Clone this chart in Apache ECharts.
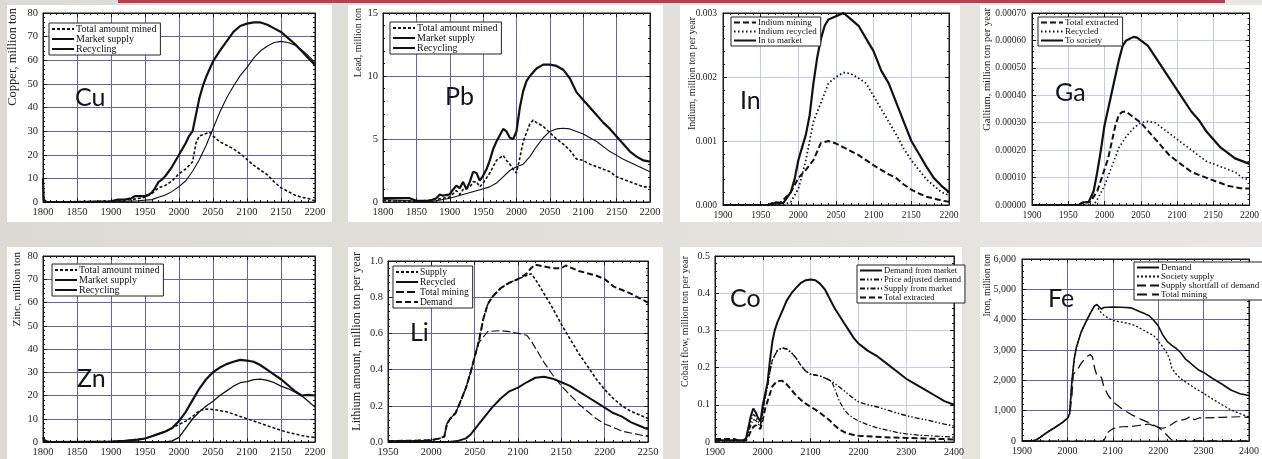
<!DOCTYPE html>
<html><head><meta charset="utf-8">
<script src="https://cdn.jsdelivr.net/npm/echarts@6/dist/echarts.min.js"></script>
<style>html,body{margin:0;padding:0;background:#e2e0db;overflow:hidden}#c{width:1262px;height:459px}</style>
</head><body><div id="c"></div>
<script>
// ---------- DATA ([year, value]) ----------
const cuMined = [[1800,0],[1900,0.3],[1910,0.8],[1930,1],[1940,1.5],[1950,2],[1960,3.5],[1970,6],[1980,7],[1990,9],[2000,12],[2010,14],[2020,17],[2025,25],[2030,28],[2040,29],[2045,29.5],[2050,28],[2060,25.5],[2070,24],[2080,22.5],[2090,20.5],[2100,18],[2110,15.5],[2120,13.5],[2130,11.5],[2140,8.5],[2150,6],[2160,4.5],[2170,3],[2180,2],[2190,1.5],[2200,0.5]];
const cuMarket = [[1800,10],[1801,1],[1805,0],[1850,0],[1900,0.3],[1910,1],[1920,1],[1930,1.5],[1935,2.5],[1950,2.5],[1955,3],[1960,4],[1965,6],[1970,8.5],[1975,9.5],[1980,11],[1990,15],[2000,20],[2010,25],[2015,28],[2020,30],[2025,37],[2030,44],[2035,49],[2040,53],[2050,59.5],[2060,64],[2070,68],[2080,72],[2090,74.5],[2100,75.5],[2110,76],[2120,76],[2130,75],[2140,73.5],[2150,72],[2160,69.5],[2170,67],[2180,64],[2190,61],[2200,58]];
const cuRecycling = [[1800,0],[1900,0],[1940,0.5],[1960,1],[1970,2],[1980,3],[1990,4.5],[2000,6.5],[2010,9],[2020,13],[2030,18],[2040,24],[2050,31],[2060,38],[2070,44],[2080,49],[2090,53.5],[2100,57],[2110,61],[2120,64],[2130,66],[2140,67.5],[2150,68],[2160,67.5],[2170,66.5],[2180,64.5],[2190,62],[2200,59]];

const pbMined = [[1800,0.1],[1850,0.05],[1880,0.2],[1890,0.3],[1900,0.4],[1910,0.9],[1915,0.6],[1920,1.0],[1930,1.2],[1935,1.6],[1940,1.6],[1945,1.2],[1950,1.5],[1960,2.3],[1970,3.3],[1975,3.5],[1980,3.7],[1985,3.3],[1990,3.0],[1995,2.6],[2000,2.3],[2005,3.5],[2010,4.8],[2020,6.2],[2025,6.5],[2030,6.3],[2040,6.0],[2050,5.5],[2060,5.0],[2070,4.6],[2080,4.1],[2090,3.4],[2100,3.3],[2110,3.0],[2120,2.8],[2130,2.6],[2140,2.4],[2150,2.0],[2160,1.8],[2170,1.6],[2180,1.4],[2190,1.2],[2200,1.2]];
const pbMarket = [[1800,0.3],[1840,0.3],[1850,0.1],[1870,0.1],[1880,0.3],[1885,0.6],[1890,0.5],[1900,0.6],[1905,1.0],[1910,1.3],[1915,1.1],[1920,1.6],[1925,1.0],[1930,1.6],[1935,2.4],[1940,2.3],[1945,1.7],[1950,2.1],[1955,2.6],[1960,3.3],[1965,4.2],[1970,4.8],[1975,5.3],[1980,5.8],[1985,5.6],[1990,5.1],[1995,5.0],[2000,5.6],[2005,7.5],[2010,8.8],[2015,9.6],[2020,10.0],[2030,10.6],[2040,10.9],[2050,10.9],[2060,10.8],[2070,10.5],[2080,9.8],[2090,8.7],[2100,8.1],[2110,7.5],[2120,6.9],[2130,6.3],[2140,5.8],[2150,5.2],[2160,4.6],[2170,4.0],[2180,3.6],[2190,3.3],[2200,3.2]];
const pbRecycling = [[1800,0.2],[1840,0.1],[1870,0],[1900,0.3],[1920,0.6],[1940,0.9],[1960,1.2],[1970,1.5],[1980,2.0],[1990,2.5],[2000,2.8],[2010,3.0],[2020,3.6],[2030,4.4],[2040,5.1],[2050,5.6],[2060,5.8],[2070,5.85],[2080,5.8],[2090,5.6],[2100,5.4],[2120,4.8],[2140,4.0],[2150,3.7],[2160,3.4],[2180,2.9],[2200,2.4]];

const inMining = [[1900,0],[1960,0],[1965,0.00003],[1975,0.00002],[1990,0.0002],[2000,0.00042],[2010,0.00055],[2020,0.0007],[2030,0.00097],[2040,0.001],[2050,0.00096],[2060,0.0009],[2070,0.00084],[2080,0.00078],[2090,0.0007],[2100,0.00062],[2110,0.00055],[2120,0.00048],[2130,0.00042],[2140,0.00032],[2150,0.00024],[2160,0.00018],[2170,0.00013],[2180,0.0001],[2190,0.00007],[2200,0.00005]];
const inRecycled = [[1900,0],[1980,0],[1990,0.00005],[2000,0.00025],[2010,0.0007],[2020,0.0013],[2030,0.0016],[2040,0.0019],[2050,0.002],[2060,0.00207],[2070,0.00205],[2080,0.00198],[2090,0.0019],[2100,0.0017],[2110,0.0015],[2120,0.0013],[2130,0.0011],[2140,0.00088],[2150,0.0007],[2160,0.00055],[2170,0.0004],[2180,0.0003],[2190,0.0002],[2200,0.00015]];
const inMarket = [[1900,0],[1965,0],[1970,0.00004],[1980,0.00003],[1990,0.0002],[1995,0.0004],[2000,0.0007],[2005,0.0009],[2010,0.0011],[2015,0.0014],[2020,0.0019],[2025,0.0023],[2030,0.0026],[2035,0.0028],[2040,0.0029],[2050,0.00295],[2060,0.003],[2070,0.0029],[2080,0.0028],[2090,0.0026],[2100,0.0024],[2110,0.0021],[2120,0.0019],[2130,0.0016],[2140,0.0013],[2150,0.001],[2160,0.0008],[2170,0.0006],[2180,0.00042],[2190,0.0003],[2200,0.0002]];

const gaExtracted = [[1900,0],[1965,0],[1970,0.00001],[1980,0.00001],[1990,0.00005],[1995,0.00009],[2000,0.00013],[2005,0.00017],[2010,0.00023],[2015,0.00029],[2020,0.00033],[2025,0.00034],[2030,0.00034],[2040,0.00032],[2050,0.0003],[2060,0.00027],[2070,0.00024],[2080,0.00021],[2090,0.00018],[2100,0.00016],[2110,0.00014],[2120,0.00012],[2130,0.00011],[2140,0.0001],[2150,0.00009],[2160,0.00008],[2170,0.00007],[2180,0.000065],[2190,0.00006],[2200,0.00006]];
const gaRecycled = [[1900,0],[1985,0],[1990,0.00002],[2000,0.00007],[2010,0.00014],[2020,0.00021],[2030,0.00025],[2040,0.00028],[2050,0.0003],[2060,0.000305],[2070,0.0003],[2080,0.00028],[2090,0.00026],[2100,0.00024],[2110,0.00022],[2120,0.0002],[2130,0.00018],[2140,0.00016],[2150,0.00015],[2160,0.00014],[2170,0.00013],[2180,0.00012],[2190,0.0001],[2200,0.00009]];
const gaSociety = [[1900,0],[1965,0],[1970,0.00001],[1978,0.00001],[1985,0.00005],[1990,0.00012],[1995,0.0002],[2000,0.00029],[2005,0.00035],[2010,0.00041],[2015,0.00047],[2020,0.00053],[2025,0.00058],[2030,0.0006],[2040,0.000613],[2045,0.00061],[2050,0.0006],[2060,0.00058],[2070,0.00054],[2080,0.0005],[2090,0.00046],[2100,0.00042],[2110,0.00038],[2120,0.00034],[2130,0.00031],[2140,0.00027],[2150,0.00024],[2160,0.00021],[2170,0.00019],[2180,0.00017],[2190,0.00016],[2200,0.00015]];

const znMined = [[1800,0.5],[1810,0],[1900,0.2],[1920,0.5],[1950,1.5],[1960,2.5],[1970,3.5],[1980,4.5],[1990,6],[2000,7.5],[2010,9],[2020,11],[2030,13.5],[2040,14.2],[2050,14],[2060,13.5],[2070,13],[2080,12],[2090,11],[2100,10],[2110,9],[2120,8],[2130,7],[2140,6],[2150,5],[2160,4.2],[2170,3.5],[2180,2.8],[2190,2.3],[2200,2]];
const znMarket = [[1800,2],[1803,0.5],[1810,0],[1900,0.2],[1920,0.5],[1940,1],[1950,1.5],[1960,2.5],[1970,3.5],[1980,4.5],[1990,6],[2000,9],[2010,13],[2020,18],[2030,23],[2040,27],[2050,30],[2060,32],[2070,33.5],[2080,34.5],[2090,35.3],[2100,35],[2110,34.5],[2120,33],[2130,31],[2140,29],[2150,27],[2160,24.5],[2170,22],[2180,20],[2190,20.3],[2200,20]];
const znRecycling = [[1800,0],[1980,0],[1990,0.5],[2000,2],[2010,6],[2020,10],[2030,13],[2040,15.5],[2050,17.5],[2060,20],[2070,22],[2080,24],[2090,25.5],[2100,26],[2110,26.8],[2120,27],[2130,26.5],[2140,25.5],[2150,24],[2160,23],[2170,21.5],[2180,20],[2190,17.5],[2200,15]];

const liSupply = [[1950,0.005],[1990,0.008],[2000,0.01],[2010,0.02],[2015,0.03],[2018,0.1],[2022,0.13],[2028,0.16],[2035,0.24],[2040,0.3],[2045,0.38],[2050,0.47],[2055,0.56],[2060,0.68],[2065,0.76],[2070,0.8],[2080,0.85],[2090,0.88],[2100,0.9],[2110,0.92],[2115,0.93],[2120,0.9],[2130,0.82],[2140,0.74],[2150,0.65],[2160,0.57],[2170,0.49],[2180,0.42],[2190,0.35],[2200,0.29],[2210,0.24],[2220,0.2],[2230,0.17],[2240,0.15],[2250,0.13]];
const liRecycled = [[1950,0],[2020,0],[2030,0.005],[2040,0.02],[2045,0.04],[2050,0.07],[2060,0.13],[2070,0.19],[2080,0.24],[2090,0.28],[2100,0.3],[2110,0.33],[2120,0.355],[2130,0.36],[2140,0.35],[2150,0.33],[2160,0.31],[2170,0.28],[2180,0.25],[2190,0.22],[2200,0.19],[2210,0.16],[2220,0.14],[2230,0.11],[2240,0.09],[2250,0.07]];
const liMining = [[1950,0.005],[1990,0.008],[2000,0.01],[2010,0.02],[2015,0.03],[2018,0.1],[2022,0.13],[2028,0.16],[2035,0.24],[2040,0.3],[2045,0.38],[2050,0.47],[2055,0.55],[2060,0.58],[2065,0.61],[2080,0.615],[2090,0.61],[2100,0.6],[2110,0.59],[2115,0.56],[2120,0.52],[2130,0.44],[2140,0.37],[2150,0.31],[2160,0.26],[2170,0.21],[2180,0.17],[2190,0.13],[2200,0.1],[2210,0.08],[2220,0.06],[2230,0.05],[2240,0.04],[2250,0.03]];
const liDemand = [[1950,0.005],[1990,0.008],[2000,0.01],[2010,0.02],[2015,0.03],[2018,0.1],[2022,0.13],[2028,0.16],[2035,0.24],[2040,0.3],[2045,0.38],[2050,0.47],[2055,0.56],[2060,0.68],[2065,0.76],[2070,0.8],[2080,0.85],[2090,0.88],[2100,0.9],[2110,0.93],[2115,0.96],[2120,0.98],[2130,0.97],[2140,0.96],[2150,0.96],[2155,0.975],[2170,0.945],[2190,0.92],[2200,0.9],[2210,0.86],[2230,0.82],[2250,0.77]];

const coDemand = [[1900,0.005],[1960,0.005],[1965,0.01],[1970,0.04],[1975,0.07],[1980,0.09],[1985,0.08],[1990,0.065],[1995,0.055],[2000,0.1],[2005,0.13],[2010,0.16],[2015,0.22],[2020,0.27],[2025,0.3],[2030,0.32],[2040,0.35],[2050,0.38],[2060,0.4],[2070,0.415],[2080,0.428],[2090,0.435],[2100,0.437],[2110,0.435],[2120,0.425],[2130,0.41],[2140,0.385],[2150,0.36],[2160,0.34],[2170,0.32],[2180,0.3],[2190,0.28],[2200,0.265],[2210,0.255],[2220,0.245],[2240,0.23],[2260,0.21],[2280,0.19],[2300,0.17],[2320,0.155],[2340,0.14],[2360,0.125],[2380,0.11],[2400,0.1]];
const coPriceAdj = [[1900,0.003],[1960,0.003],[1965,0.008],[1970,0.03],[1975,0.055],[1980,0.075],[1985,0.068],[1990,0.055],[1995,0.045],[2000,0.085],[2005,0.12],[2010,0.15],[2015,0.19],[2020,0.22],[2030,0.245],[2040,0.253],[2050,0.25],[2060,0.24],[2070,0.225],[2080,0.205],[2090,0.19],[2100,0.182],[2110,0.18],[2120,0.177],[2130,0.172],[2140,0.166],[2150,0.158],[2160,0.148],[2170,0.138],[2180,0.127],[2190,0.117],[2200,0.108],[2220,0.1],[2240,0.094],[2260,0.086],[2280,0.078],[2300,0.071],[2320,0.065],[2340,0.06],[2360,0.054],[2380,0.048],[2400,0.043]];
const coSupplyMkt = [[1900,0.003],[1960,0.003],[1965,0.006],[1970,0.025],[1975,0.045],[1980,0.06],[1985,0.058],[1990,0.05],[1995,0.042],[2000,0.08],[2005,0.12],[2010,0.15],[2015,0.19],[2020,0.22],[2030,0.245],[2040,0.253],[2050,0.25],[2060,0.24],[2070,0.225],[2080,0.205],[2090,0.19],[2100,0.182],[2110,0.18],[2120,0.177],[2130,0.172],[2140,0.166],[2145,0.16],[2150,0.145],[2160,0.11],[2170,0.088],[2180,0.073],[2190,0.064],[2200,0.057],[2220,0.046],[2240,0.038],[2260,0.032],[2280,0.026],[2300,0.022],[2330,0.018],[2360,0.016],[2400,0.013]];
const coExtracted = [[1900,0.008],[1940,0.008],[1950,0.003],[1965,0.004],[1970,0.015],[1975,0.03],[1980,0.04],[1985,0.045],[1990,0.04],[1995,0.035],[2000,0.06],[2005,0.09],[2010,0.11],[2015,0.13],[2020,0.15],[2030,0.163],[2040,0.165],[2050,0.155],[2060,0.14],[2070,0.125],[2080,0.113],[2090,0.103],[2100,0.094],[2110,0.087],[2120,0.078],[2130,0.068],[2140,0.058],[2150,0.045],[2160,0.034],[2170,0.027],[2180,0.022],[2190,0.019],[2200,0.017],[2250,0.013],[2300,0.011],[2350,0.009],[2400,0.007]];

const feDemand = [[1900,0],[1920,0],[1930,30],[1940,120],[1950,230],[1960,330],[1970,420],[1980,520],[1990,620],[2000,750],[2005,900],[2010,2000],[2015,2700],[2020,3100],[2030,3580],[2040,3900],[2050,4200],[2060,4460],[2065,4500],[2070,4420],[2075,4350],[2080,4400],[2100,4420],[2120,4410],[2140,4390],[2150,4330],[2160,4260],[2170,4200],[2180,4130],[2190,3980],[2200,3800],[2210,3500],[2220,3280],[2230,3150],[2240,3050],[2250,2900],[2260,2700],[2270,2580],[2280,2450],[2290,2330],[2300,2260],[2320,2060],[2340,1880],[2360,1680],[2380,1560],[2400,1500]];
const feSupply = [[1900,0],[1920,0],[1930,30],[1940,120],[1950,230],[1960,330],[1970,420],[1980,520],[1990,620],[2000,750],[2005,900],[2010,2000],[2015,2700],[2020,3100],[2030,3580],[2040,3900],[2050,4200],[2060,4460],[2065,4500],[2070,4300],[2080,4150],[2090,4050],[2100,3970],[2120,3920],[2140,3850],[2150,3800],[2160,3720],[2180,3550],[2190,3480],[2200,3300],[2210,3100],[2220,2880],[2225,2700],[2230,2400],[2240,2200],[2250,2050],[2260,1950],[2280,1750],[2300,1570],[2320,1380],[2340,1200],[2360,1030],[2380,900],[2400,790]];
const feShortfall = [[1900,0],[2080,0],[2085,150],[2090,300],[2100,400],[2110,450],[2120,470],[2140,480],[2160,520],[2180,560],[2190,500],[2200,450],[2210,420],[2220,460],[2230,550],[2240,650],[2260,720],[2270,800],[2280,700],[2290,760],[2300,760],[2340,780],[2380,800],[2400,780]];
const feMining = [[1900,0],[1920,0],[1930,30],[1940,120],[1950,230],[1960,330],[1970,420],[1980,520],[1990,620],[2000,750],[2005,850],[2010,1500],[2013,2200],[2020,2300],[2030,2550],[2040,2750],[2050,2850],[2055,2780],[2060,2400],[2065,2150],[2075,2100],[2080,1800],[2090,1500],[2100,1300],[2120,1060],[2140,880],[2160,730],[2180,600],[2200,450],[2210,330],[2220,180],[2230,30],[2235,0],[2400,0]];

// ---------- BUILD ----------
const SERIF = "'Liberation Serif','Times New Roman',serif";
const INK = '#111';
const GRID_DARK = '#6262ae', GRID_LIGHT = '#c9c9ef';
const grids = [], xAxes = [], yAxes = [], series = [], legends = [], texts = [];

function panel(p, list) {
  const gi = grids.length;
  grids.push({left:p.g[0], top:p.g[1], width:p.g[2], height:p.g[3], show:true, borderColor:'#1a1a1a', borderWidth:1});
  const tick = {color:'#1a1a1a', width:1};
  const base = (pos, rng, minor, label, split) => ({
    type:'value', gridIndex:gi, position:pos, min:rng[0], max:rng[1], interval:rng[2],
    axisLine:{show:true, onZero:false, lineStyle:tick},
    axisTick:{show:true, inside:true, length:4, lineStyle:tick},
    minorTick:{show:true, inside:true, splitNumber:minor, length:2, lineStyle:tick},
    splitLine:{show:split, lineStyle:{color:p.gc, width:1}},
    axisLabel:label
  });
  const xi = xAxes.length;
  xAxes.push(base('bottom', p.x, 5, {show:true, margin:5, fontFamily:SERIF, fontSize:p.fs, color:'#222', formatter:v=>String(v)}, true));
  xAxes.push(base('top', p.x, 5, {show:false}, false));
  const yi = yAxes.length;
  yAxes.push(base('left', p.y, p.ym || 5, {show:true, margin:p.lm || 5, fontFamily:SERIF, fontSize:p.fs, color:'#222', formatter:p.yf}, true));
  yAxes.push(base('right', p.y, p.ym || 5, {show:false}, false));
  list.forEach(s => series.push({
    type:'line', name:p.key + '|' + s.n, xAxisIndex:xi, yAxisIndex:yi, data:s.d,
    symbol:'none', showSymbol:false, silent:true, animation:false, z:s.z || 2,
    color:INK, itemStyle:{color:INK},
    lineStyle:{color:INK, width:s.w, type:s.t || 'solid'}
  }));
  legends.push({
    orient:'vertical', left:p.lg[0], top:p.lg[1], itemGap:0, itemWidth:p.lw || 22, itemHeight:8,
    padding:[1,4,1,2], backgroundColor:'#fff', borderColor:'#222', borderWidth:1, selectedMode:false, z:10,
    itemStyle:{opacity:0, borderWidth:0},
    data:p.order.map(i => p.key + '|' + list[i].n),
    formatter:n => n.split('|')[1],
    textStyle:{fontFamily:SERIF, fontSize:p.lfs, color:INK, padding:[0,0,0,-3]}
  });
  texts.push({type:'text', x:p.nm[0], y:p.nm[1], rotation:Math.PI/2, z:50,
    style:{text:p.name, fontFamily:SERIF, fontSize:p.nm[2], fill:'#222', align:'right', verticalAlign:'middle'}});
  texts.push({type:'text', x:p.el[0], y:p.el[1], z:60,
    style:{text:p.key, fontFamily:"Lato,'Open Sans',sans-serif", fontSize:p.el[2] || 25, fill:'#14141c', align:'left', verticalAlign:'middle'}});
}

const i0 = v => String(v);
panel({key:'Cu', g:[43,13,272,189], x:[1800,2200,50], y:[0,80,10], gc:GRID_DARK, fs:10.5, yf:i0,
  name:'Copper, million ton', nm:[13,8,12.5], lg:[49,23], lfs:10, el:[75,98], order:[0,1,2]},
  [{n:'Total amount mined', d:cuMined, w:1.6, t:[3,2]}, {n:'Market supply', d:cuMarket, w:2.2}, {n:'Recycling', d:cuRecycling, w:1.1}]);
panel({key:'Pb', g:[383,13,267,189], x:[1800,2200,50], y:[0,15,5], gc:GRID_DARK, fs:10.5, yf:i0,
  name:'Lead, million ton', nm:[358,8,10], lg:[390,22], lfs:10, el:[445,97], order:[0,1,2]},
  [{n:'Total amount mined', d:pbMined, w:1.6, t:[3,2]}, {n:'Market supply', d:pbMarket, w:2.2}, {n:'Recycling', d:pbRecycling, w:1.1}]);
panel({key:'In', g:[723,13,226,192], x:[1900,2200,50], y:[0,0.003,0.001], gc:GRID_LIGHT, fs:9.5, yf:v=>v.toFixed(3), lm:6,
  name:'Indium, million ton per year', nm:[692,17,10], lg:[731,17], lfs:9, el:[740,101], order:[0,1,2]},
  [{n:'Indium mining', d:inMining, w:2, t:[6,3]}, {n:'Indium recycled', d:inRecycled, w:1.8, t:[1.5,2.5]}, {n:'In to market', d:inMarket, w:2.2}]);
panel({key:'Ga', g:[1032,13,227,192], x:[1900,2200,50], y:[0,0.0007,0.0001], gc:GRID_LIGHT, fs:9.5, yf:v=>v.toFixed(5), lm:6,
  name:'Gallium, million ton per year', nm:[987,8,10.5], lg:[1038,17], lfs:9, el:[1055,93], order:[0,1,2]},
  [{n:'Total extracted', d:gaExtracted, w:2, t:[6,3]}, {n:'Recycled', d:gaRecycled, w:1.6, t:[1.5,2.5]}, {n:'To society', d:gaSociety, w:2.2}]);
panel({key:'Zn', g:[43,256,272,186], x:[1800,2200,50], y:[0,80,10], gc:GRID_DARK, fs:10.5, yf:i0,
  name:'Zinc, million ton', nm:[17,252,11], lg:[52,264], lfs:10, el:[77,379], order:[0,1,2]},
  [{n:'Total amount mined', d:znMined, w:1.5, t:[3,2]}, {n:'Market supply', d:znMarket, w:2.2}, {n:'Recycling', d:znRecycling, w:1.3}]);
panel({key:'Li', g:[388,261,260,181], x:[1950,2250,50], y:[0,1,0.2], gc:GRID_DARK, fs:10.5, yf:v=>v.toFixed(1),
  name:'Lithium amount, million ton per year', nm:[357,252,12], lg:[393,266], lfs:9.5, el:[410,333], order:[0,1,2,3]},
  [{n:'Supply', d:liSupply, w:1.6, t:[3,2]}, {n:'Recycled', d:liRecycled, w:2}, {n:'Total mining', d:liMining, w:1.1, t:[8,3]}, {n:'Demand', d:liDemand, w:2, t:[6,3]}]);
panel({key:'Co', g:[715,256,239,186], x:[1900,2400,100], y:[0,0.5,0.1], gc:GRID_LIGHT, fs:10, yf:i0,
  name:'Cobalt flow, million ton per year', nm:[685,256,10], lg:[857,265], lfs:8.5, el:[730,299], order:[0,1,2,3]},
  [{n:'Demand from market', d:coDemand, w:2}, {n:'Price adjusted demand', d:coPriceAdj, w:1.4, t:[5,2,1.5,2,1.5,2]}, {n:'Supply from market', d:coSupplyMkt, w:1.2, t:[5,2,1.5,2]}, {n:'Total extracted', d:coExtracted, w:2, t:[6,3]}]);
panel({key:'Fe', g:[1022,259,235,182], x:[1900,2400,100], y:[0,6000,1000], gc:GRID_DARK, fs:10, yf:v=>v===0?'0':(v/1000)+',000', lm:6,
  name:'Iron, million ton', nm:[987,254,9.5], lg:[1134,262], lfs:9, el:[1048,299], order:[0,1,2,3]},
  [{n:'Demand', d:feDemand, w:1.6}, {n:'Society supply', d:feSupply, w:1.3, t:[2,2]}, {n:'Supply shortfall of demand', d:feShortfall, w:1.2, t:[9,4]}, {n:'Total mining', d:feMining, w:1.3, t:[10,5]}]);

// slide background pieces
const panelsBg = [[7,5,325,217],[348,5,315,217],[680,5,280,217],[980,5,282,217],[7,247,325,212],[348,247,315,212],[680,247,282,212],[980,247,282,212]];
const bg = [{type:'rect', shape:{x:0,y:0,width:1262,height:459}, z:-200,
  style:{fill:{type:'linear',x:0,y:0,x2:1,y2:0,colorStops:[{offset:0,color:'#dcdad4'},{offset:1,color:'#e8e7e3'}]}}},
  {type:'rect', shape:{x:118,y:0,width:1107,height:3}, z:-150, style:{fill:'#c23a50'}}];
panelsBg.forEach(r => bg.push({type:'rect', shape:{x:r[0],y:r[1],width:r[2],height:r[3]}, z:-100, style:{fill:'#ffffff'}}));

const chart = echarts.init(document.getElementById('c'), null, {renderer:'canvas'});
chart.setOption({
  animation:false,
  backgroundColor:'transparent',
  grid:grids, xAxis:xAxes, yAxis:yAxes, series:series, legend:legends,
  graphic:{elements:bg.concat(texts)}
});
</script>
</body></html>
